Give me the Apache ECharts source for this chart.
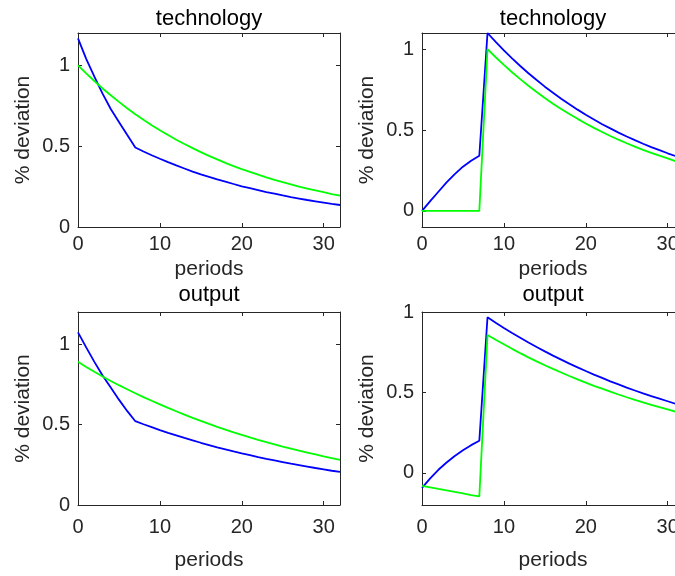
<!DOCTYPE html>
<html>
<head>
<meta charset="utf-8">
<script src="https://cdn.jsdelivr.net/npm/echarts@6/dist/echarts.min.js"></script>
<style>
html,body{margin:0;padding:0;background:#fff;}
#chart{width:675px;height:576px;}
</style>
</head>
<body>
<div id="chart"></div>
<script>
const periods = [0,1,2,3,4,5,6,7,8,9,10,11,12,13,14,15,16,17,18,19,20,21,22,23,24,25,26,27,28,29,30,31,32];

const techLeftBlue = [1.167,1.04,0.93,0.825,0.73,0.65,0.57,0.492,0.467,0.444,0.422,0.401,0.381,0.362,0.343,0.326,0.310,0.294,0.280,0.266,0.252,0.240,0.228,0.216,0.206,0.195,0.185,0.176,0.167,0.159,0.151,0.143,0.136];
const techLeftGreen = [1.000,0.950,0.903,0.857,0.815,0.774,0.735,0.698,0.663,0.630,0.599,0.569,0.540,0.513,0.488,0.463,0.440,0.418,0.397,0.377,0.358,0.341,0.324,0.307,0.292,0.277,0.264,0.250,0.238,0.226,0.215,0.204,0.194];

const techRightBlue = [0,0.060,0.118,0.176,0.227,0.273,0.310,0.341,1.100,1.045,0.993,0.943,0.896,0.851,0.809,0.768,0.730,0.693,0.659,0.626,0.594,0.565,0.536,0.510,0.484,0.460,0.437,0.415,0.394,0.375,0.356,0.338,0.321];
const techRightGreen = [0,0,0,0,0,0,0,0,1.000,0.950,0.903,0.857,0.815,0.774,0.735,0.698,0.663,0.630,0.599,0.569,0.540,0.513,0.488,0.463,0.440,0.418,0.397,0.377,0.358,0.341,0.324,0.307,0.292];

const outLeftBlue = [1.073,0.98,0.89,0.805,0.73,0.655,0.585,0.521,0.502,0.484,0.466,0.449,0.433,0.417,0.402,0.387,0.373,0.359,0.346,0.333,0.321,0.310,0.298,0.287,0.277,0.267,0.257,0.248,0.239,0.230,0.222,0.213,0.206];
const outLeftGreen = [0.890,0.858,0.828,0.799,0.771,0.745,0.720,0.695,0.671,0.648,0.626,0.604,0.583,0.562,0.542,0.523,0.504,0.486,0.469,0.452,0.436,0.420,0.405,0.391,0.377,0.363,0.350,0.338,0.326,0.314,0.302,0.291,0.280];

const outRightBlue = [-0.093,-0.034,0.019,0.064,0.105,0.140,0.172,0.199,0.967,0.933,0.901,0.870,0.840,0.810,0.782,0.755,0.729,0.704,0.679,0.656,0.633,0.611,0.590,0.569,0.550,0.530,0.512,0.494,0.477,0.461,0.445,0.429,0.414];
const outRightGreen = [-0.081,-0.090,-0.100,-0.109,-0.119,-0.128,-0.138,-0.147,0.857,0.827,0.799,0.771,0.744,0.718,0.693,0.669,0.646,0.624,0.602,0.581,0.561,0.541,0.523,0.505,0.487,0.470,0.454,0.438,0.423,0.408,0.394,0.380,0.367];

const xTicks = [0,10,20,30];
const yTicks = [0,0.5,1];
const titles = ['technology','technology','output','output'];
const xLabel = 'periods';
const yLabel = '% deviation';
const yRanges = [[0,1.2],[-0.1,1.1],[0,1.2],[-0.2,1]];
const xRange = [0,32];

const panels = [
  {blue: techLeftBlue, green: techLeftGreen},
  {blue: techRightBlue, green: techRightGreen},
  {blue: outLeftBlue, green: outLeftGreen},
  {blue: outRightBlue, green: outRightGreen}
];

const FONT = 'Liberation Sans, Arial, Helvetica, sans-serif';
const AX = '#262626';
const grids = [
  {left:78, top:33, width:262, height:194, outerBoundsMode:'none'},
  {left:422, top:33, width:262, height:194, outerBoundsMode:'none'},
  {left:78, top:312, width:262, height:193, outerBoundsMode:'none'},
  {left:422, top:312, width:262, height:193, outerBoundsMode:'none'}
];
const titleCenters = [209, 553, 209, 553];
const titleTops = [8, 8, 284, 284];
const xNameGaps = [32, 32, 45, 45];
const xLabelMargins = [7, 7, 12, 12];

const xAxes = [], yAxes = [], series = [], titleComps = [];
grids.forEach((g, i) => {
  const baseX = {
    type:'value', gridIndex:i, min:xRange[0], max:xRange[1],
    axisLine:{show:true, onZero:false, lineStyle:{color:AX, width:1}},
    axisTick:{show:true, inside:true, length:4, customValues:xTicks, lineStyle:{color:AX}},
    splitLine:{show:false}
  };
  xAxes.push(Object.assign({}, baseX, {
    position:'bottom',
    axisLabel:{show:true, customValues:xTicks, color:AX, fontSize:20, fontFamily:FONT, margin:xLabelMargins[i], hideOverlap:false},
    name:xLabel, nameLocation:'middle', nameGap:xNameGaps[i],
    nameTextStyle:{color:AX, fontSize:21, fontFamily:FONT}
  }));
  xAxes.push(Object.assign({}, baseX, {position:'top', axisLabel:{show:false}}));
  const baseY = {
    type:'value', gridIndex:i, min:yRanges[i][0], max:yRanges[i][1],
    axisLine:{show:true, onZero:false, lineStyle:{color:AX, width:1}},
    axisTick:{show:true, inside:true, length:4, customValues:yTicks, lineStyle:{color:AX}},
    splitLine:{show:false}
  };
  yAxes.push(Object.assign({}, baseY, {
    position:'left',
    axisLabel:{show:true, customValues:yTicks, color:AX, fontSize:20, fontFamily:FONT, margin:8},
    name:yLabel, nameLocation:'middle', nameGap:44,
    nameTextStyle:{color:AX, fontSize:21, fontFamily:FONT}
  }));
  yAxes.push(Object.assign({}, baseY, {position:'right', axisLabel:{show:false}}));

  const p = panels[i];
  series.push({
    type:'line', xAxisIndex:2*i, yAxisIndex:2*i,
    data: periods.map((t,k)=>[t, p.blue[k]]),
    showSymbol:false, symbol:'none', lineStyle:{color:'#0000ff', width:1.8}, itemStyle:{color:'#0000ff'}, clip:true
  });
  series.push({
    type:'line', xAxisIndex:2*i, yAxisIndex:2*i,
    data: periods.map((t,k)=>[t, p.green[k]]),
    showSymbol:false, symbol:'none', lineStyle:{color:'#00ff00', width:1.8}, itemStyle:{color:'#00ff00'}, clip:true
  });
  titleComps.push({
    text: titles[i], left: titleCenters[i], top: titleTops[i], textAlign:'center', padding:0,
    textStyle:{color:'#000', fontSize:22, fontWeight:'normal', fontFamily:FONT}
  });
});

const chart = echarts.init(document.getElementById('chart'), null, {renderer:'canvas'});
chart.setOption({
  animation:false,
  backgroundColor:'#ffffff',
  title: titleComps,
  grid: grids,
  xAxis: xAxes,
  yAxis: yAxes,
  series: series
});
</script>
</body>
</html>
